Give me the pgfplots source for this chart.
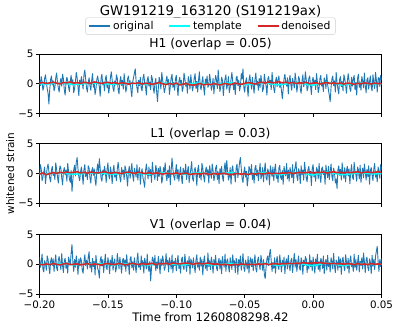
\documentclass[border=0pt]{standalone}
\usepackage{fontspec}
\setmainfont{DejaVu Sans}
\usepackage{pgfplots}
\usepackage{pgfplotstable}
\pgfplotsset{compat=1.18}

\definecolor{tabblue}{HTML}{1F77B4}
\definecolor{tabred}{HTML}{D62728}
\definecolor{tplcyan}{HTML}{00FFFF}

% whitened strain, 0.000625 s spacing from -0.2
\pgfplotstableread[row sep=\\]{y\\
0.6\\ -0.3\\ 1.2\\ 0.4\\ -1.1\\ -0.5\\ 0.9\\ 1.5\\ 0.2\\ -0.8\\ -1.6\\ -3.4\\ -0.9\\ 0.7\\ 1.3\\ -0.2\\ 0.5\\ -1.2\\ -0.6\\ 1.0\\
1.8\\ 0.3\\ -0.7\\ -1.4\\ 0.1\\ 0.9\\ -0.4\\ 1.6\\ 0.8\\ -1.0\\ -1.9\\ 0.2\\ 1.1\\ 0.5\\ -0.6\\ -1.3\\ 0.4\\ 1.4\\ -0.2\\ 0.7\\
-1.5\\ -0.8\\ 0.3\\ 1.9\\ 1.0\\ -0.5\\ -2.0\\ 0.6\\ -0.1\\ 1.2\\ 0.3\\ -0.9\\ 1.5\\ 2.3\\ 0.8\\ -0.7\\ -1.4\\ 0.2\\ 1.0\\ -0.3\\
-1.1\\ 0.5\\ 1.7\\ -0.6\\ 0.0\\ -1.8\\ -0.9\\ 0.7\\ 1.3\\ 0.4\\ -0.5\\ -2.1\\ 0.9\\ 1.6\\ -0.2\\ 0.3\\ -1.2\\ 0.8\\ 1.4\\ -0.7\\
0.2\\ -1.6\\ -0.4\\ 1.1\\ 2.0\\ 0.6\\ -0.8\\ -1.3\\ 0.5\\ -0.2\\ 1.5\\ 0.9\\ -1.0\\ -1.7\\ 0.4\\ 1.2\\ -0.3\\ 0.6\\ -0.9\\ 1.7\\
0.1\\ -1.4\\ -0.6\\ 0.8\\ 1.3\\ -0.2\\ 0.5\\ -1.1\\ -2.2\\ 0.3\\ 1.0\\ 1.8\\ 2.5\\ 0.4\\ -0.7\\ -1.5\\ 0.6\\ -0.3\\ 1.1\\ -0.8\\
-1.2\\ 0.9\\ 1.6\\ 0.2\\ -0.5\\ -1.9\\ 0.7\\ 1.2\\ -0.4\\ 0.3\\ -1.0\\ 1.4\\ 0.8\\ -0.6\\ -1.6\\ 0.1\\ 0.9\\ -1.3\\ -3.0\\ -0.7\\
1.1\\ 0.4\\ -0.9\\ 1.9\\ 0.6\\ -0.3\\ -1.5\\ -0.8\\ 0.5\\ 1.3\\ -0.1\\ 0.7\\ -1.8\\ -0.4\\ 1.0\\ 1.6\\ -0.6\\ 0.2\\ -1.1\\ 0.8\\
1.4\\ -0.5\\ -2.0\\ 0.3\\ 1.1\\ -0.2\\ 0.6\\ -1.3\\ -0.7\\ 1.8\\ 0.9\\ -0.4\\ 0.2\\ -1.6\\ 1.2\\ 0.5\\ -0.9\\ 1.5\\ 0.0\\ -1.2\\
-0.3\\ 1.0\\ 1.7\\ -0.8\\ 0.4\\ -1.4\\ 0.6\\ 2.0\\ -0.5\\ -1.0\\ 0.3\\ 1.2\\ -0.7\\ -1.9\\ 0.8\\ 0.1\\ 1.3\\ -0.6\\ -0.2\\ 1.6\\
0.5\\ -1.1\\ -0.4\\ 0.9\\ -1.7\\ 0.2\\ 1.4\\ 0.7\\ -0.8\\ 2.3\\ 0.3\\ -1.3\\ -0.5\\ 1.1\\ 0.6\\ -2.0\\ -0.2\\ 0.8\\ 1.5\\ -0.9\\
-0.1\\ 1.2\\ -1.5\\ -0.6\\ 0.7\\ 1.9\\ 0.4\\ -1.0\\ 0.2\\ -1.8\\ 0.9\\ 1.3\\ -0.3\\ 0.6\\ -1.2\\ -0.4\\ 1.7\\ 0.8\\ 2.5\\ -0.7\\
-1.4\\ 0.3\\ 1.0\\ -0.5\\ -2.1\\ 0.6\\ 1.5\\ 0.1\\ -0.9\\ 1.1\\ -0.3\\ -1.6\\ 0.7\\ 1.8\\ -0.2\\ 0.4\\ -1.1\\ 0.9\\ -0.6\\ 1.4\\
0.2\\ -1.3\\ -0.7\\ 1.6\\ 0.5\\ -0.4\\ -1.9\\ 0.8\\ 1.2\\ -0.1\\ 0.6\\ -1.0\\ 1.9\\ 0.3\\ -0.8\\ -1.5\\ 0.4\\ 1.1\\ -0.5\\ 0.7\\
1.3\\ -0.6\\ 0.1\\ -1.2\\ -2.5\\ -0.9\\ 0.8\\ 1.6\\ 0.3\\ -0.4\\ 1.0\\ -1.7\\ 0.5\\ 1.4\\ -0.2\\ -1.1\\ 0.9\\ 0.2\\ -0.7\\ 1.8\\
0.6\\ -1.4\\ -0.3\\ 1.2\\ 0.8\\ -0.9\\ -1.6\\ 0.4\\ 1.5\\ -0.5\\ 0.1\\ 2.0\\ 0.7\\ -1.2\\ -0.6\\ 0.9\\ 1.3\\ -0.3\\ -1.8\\ 0.5\\
1.1\\ -0.2\\ 0.6\\ -1.0\\ 1.7\\ 0.3\\ -1.5\\ -0.7\\ 0.9\\ 1.4\\ -0.4\\ 0.2\\ -1.3\\ 1.0\\ 0.5\\ -0.8\\ 1.6\\ -0.1\\ -1.1\\ -2.0\\
-3.0\\ -0.6\\ 0.8\\ 1.3\\ -0.3\\ 0.5\\ -1.4\\ 1.9\\ 0.2\\ -0.9\\ -1.7\\ 0.7\\ 1.2\\ -0.5\\ 0.4\\ -1.2\\ 1.5\\ 0.9\\ -0.2\\ -1.6\\
0.3\\ 1.7\\ 0.6\\ -0.8\\ -1.3\\ 1.1\\ -0.4\\ 0.8\\ 1.4\\ -1.0\\ 0.2\\ -1.9\\ 0.9\\ 1.6\\ -0.6\\ 0.3\\ -1.1\\ 1.2\\ 0.5\\ -0.7\\
1.8\\ -0.3\\ -1.5\\ 0.7\\ 1.0\\ -0.9\\ 0.4\\ 1.3\\ -0.6\\ -1.2\\ 1.5\\ 0.2\\ -0.8\\ 1.9\\ 0.6\\ -1.4\\ 0.8\\ 1.1\\ -0.5\\ 1.4\\
0.6\\
}\hone
\pgfplotstableread[row sep=\\]{y\\
-0.4\\ 1.5\\ 0.8\\ -1.2\\ -0.6\\ 0.3\\ 1.1\\ -1.7\\ -0.2\\ 0.9\\ 1.6\\ 0.4\\ -0.8\\ -1.4\\ 0.6\\ 1.2\\ -0.3\\ 0.1\\ -1.0\\ 1.8\\
0.7\\ -0.5\\ -1.6\\ 0.2\\ 1.3\\ 0.9\\ -0.7\\ -1.9\\ 0.4\\ 1.0\\ -0.2\\ 0.6\\ -1.3\\ 1.7\\ 0.3\\ -0.9\\ -1.5\\ 0.5\\ -3.0\\ -1.1\\
0.6\\ 1.4\\ -0.4\\ 1.9\\ 2.7\\ 0.8\\ -0.6\\ -1.2\\ 0.3\\ 1.1\\ -0.1\\ -1.8\\ 0.7\\ 1.5\\ -0.5\\ 0.2\\ -1.0\\ 1.3\\ 0.9\\ -0.7\\
-1.6\\ 0.4\\ 1.0\\ -0.3\\ 0.8\\ -1.1\\ -2.0\\ 0.5\\ 1.6\\ 0.1\\ 2.5\\ 0.9\\ -0.8\\ -1.3\\ 0.6\\ -0.2\\ 1.2\\ 0.3\\ -1.5\\ 0.7\\
1.8\\ -0.4\\ -0.9\\ 1.1\\ 0.2\\ -1.7\\ 0.5\\ 1.4\\ -0.6\\ 0.0\\ -1.2\\ 0.8\\ 1.9\\ 0.4\\ -0.7\\ -1.4\\ 1.0\\ -0.1\\ 0.6\\ -1.0\\
1.3\\ 0.7\\ -0.5\\ -2.1\\ 0.3\\ 1.2\\ -0.8\\ 0.6\\ 1.7\\ -0.3\\ -1.3\\ 0.9\\ 0.2\\ -0.6\\ 1.5\\ -1.1\\ 0.4\\ 1.0\\ -1.8\\ 0.1\\
0.8\\ -0.7\\ -1.4\\ -2.3\\ 0.5\\ 1.6\\ 0.2\\ -0.9\\ 1.1\\ -0.4\\ 0.7\\ -1.5\\ 1.9\\ 0.3\\ -0.2\\ -1.0\\ 1.4\\ 0.6\\ -1.2\\ 0.9\\
-0.5\\ 1.2\\ 0.4\\ -1.6\\ -0.8\\ 1.0\\ 0.3\\ 1.8\\ -0.3\\ -1.2\\ 0.6\\ -0.7\\ 1.3\\ -1.9\\ 0.5\\ 2.6\\ 0.8\\ -0.4\\ -1.1\\ 0.2\\
1.5\\ -0.9\\ 0.7\\ -1.3\\ 0.1\\ 1.1\\ -0.6\\ -1.7\\ 0.9\\ 0.4\\ -0.2\\ 1.6\\ -1.0\\ 0.3\\ 1.2\\ -1.5\\ -0.4\\ 0.8\\ 2.0\\ -0.8\\
-1.3\\ 0.5\\ 1.0\\ -0.1\\ -2.0\\ 0.6\\ 1.4\\ -0.7\\ 0.2\\ -1.1\\ 1.7\\ 0.9\\ -0.5\\ -1.4\\ 0.4\\ 1.1\\ -0.3\\ 0.7\\ -1.6\\ 1.3\\
0.2\\ -0.8\\ 1.6\\ 0.5\\ -1.2\\ -0.4\\ 0.9\\ 1.4\\ -1.0\\ 0.3\\ -1.7\\ 0.8\\ 0.1\\ 1.2\\ -0.6\\ -1.3\\ 0.7\\ 1.8\\ -0.2\\ 2.2\\
0.4\\ -1.1\\ -0.5\\ 1.0\\ -1.8\\ 0.6\\ 1.3\\ -0.3\\ 0.2\\ -1.4\\ 0.9\\ 1.6\\ -0.7\\ 0.5\\ 1.9\\ 2.7\\ 0.8\\ -0.9\\ -1.5\\ 0.3\\
1.1\\ -0.6\\ 0.4\\ -2.1\\ -0.8\\ 1.2\\ 0.7\\ -0.2\\ 1.5\\ -1.0\\ 0.1\\ -1.6\\ 0.9\\ 1.4\\ -0.4\\ 0.6\\ -1.2\\ 0.3\\ 1.7\\ -0.9\\
-0.3\\ 1.0\\ -1.4\\ 0.5\\ 1.8\\ -0.7\\ -1.1\\ 0.8\\ 0.2\\ -1.9\\ 1.3\\ 0.4\\ -0.5\\ 1.1\\ -1.2\\ 0.7\\ 1.6\\ -0.8\\ 0.0\\ -1.5\\
0.9\\ 1.4\\ -0.6\\ -1.0\\ 0.5\\ -1.8\\ 1.2\\ 0.3\\ -0.4\\ 1.7\\ -0.9\\ 0.6\\ -1.3\\ 1.0\\ 0.2\\ -0.7\\ 1.5\\ -1.6\\ 0.4\\ 1.1\\
2.0\\ -0.5\\ -1.2\\ 0.8\\ 0.3\\ -1.7\\ 1.3\\ -0.2\\ 0.6\\ -1.1\\ 1.9\\ 0.5\\ -0.8\\ -1.4\\ 0.7\\ 1.2\\ -0.3\\ 0.4\\ -2.0\\ 0.9\\
1.5\\ -0.6\\ 0.2\\ -1.3\\ 1.0\\ 0.6\\ -0.9\\ 1.7\\ -0.4\\ -1.5\\ 0.8\\ 1.1\\ -0.2\\ 0.5\\ -1.8\\ 1.4\\ 0.3\\ -0.7\\ 1.2\\ -1.0\\
0.4\\ 1.6\\ -0.5\\ -1.2\\ 0.9\\ 0.2\\ -1.6\\ -0.9\\ -2.5\\ 0.6\\ 1.3\\ -0.3\\ 0.7\\ -1.1\\ 1.8\\ 0.1\\ -0.8\\ 1.0\\ -1.4\\ 0.5\\
1.2\\ -0.4\\ 0.8\\ -1.7\\ 0.3\\ 1.5\\ -0.6\\ -1.0\\ 1.9\\ 0.4\\ -0.2\\ -1.3\\ 1.1\\ 0.6\\ -0.9\\ 1.4\\ -1.5\\ 0.2\\ 0.9\\ -0.7\\
1.6\\ 0.3\\ -1.1\\ 0.7\\ -0.5\\ 1.3\\ -1.8\\ 0.5\\ 1.0\\ -0.3\\ -1.2\\ 0.8\\ 1.7\\ -0.6\\ 0.2\\ -1.4\\ 1.1\\ 0.4\\ -0.8\\ 1.5\\
0.6\\
}\lone
\pgfplotstableread[row sep=\\]{y\\
1.2\\ -0.5\\ 0.3\\ 1.7\\ -0.8\\ -1.3\\ 0.6\\ 0.1\\ -1.0\\ 1.4\\ 0.8\\ -0.4\\ -1.6\\ 0.5\\ 1.1\\ -0.2\\ 0.9\\ -1.2\\ 0.4\\ 1.6\\
-0.6\\ -1.1\\ 0.7\\ 1.3\\ 0.2\\ -0.9\\ 1.8\\ -0.3\\ -1.4\\ 0.6\\ 1.0\\ -0.7\\ 0.3\\ -1.5\\ 1.2\\ 0.5\\ -0.1\\ 1.9\\ 3.3\\ 0.4\\
-1.2\\ 0.8\\ -0.5\\ 1.4\\ 0.2\\ -1.7\\ 0.9\\ -0.3\\ 1.1\\ 0.6\\ -1.0\\ -1.5\\ 0.4\\ 1.6\\ -0.2\\ 0.7\\ -0.8\\ 1.2\\ 2.1\\ -0.6\\
0.3\\ -1.3\\ 1.0\\ -0.4\\ 0.5\\ -1.8\\ 1.5\\ 0.1\\ -0.7\\ -1.1\\ -2.3\\ 0.6\\ 1.3\\ -0.3\\ 0.8\\ -1.4\\ 0.2\\ 1.7\\ -0.5\\ -0.9\\
1.1\\ 0.4\\ -1.6\\ 0.7\\ -0.2\\ 1.5\\ -1.0\\ 0.3\\ 0.9\\ -1.3\\ -0.6\\ 1.8\\ 0.5\\ -0.8\\ 1.2\\ -0.1\\ -1.5\\ 0.6\\ 1.0\\ -0.4\\
0.8\\ -1.2\\ 1.6\\ -0.3\\ 0.2\\ -1.7\\ 0.9\\ 1.3\\ -0.6\\ 0.4\\ -1.0\\ 1.1\\ -0.2\\ -1.4\\ 0.7\\ 1.9\\ -0.5\\ 0.1\\ -0.9\\ 1.4\\
-0.3\\ 0.6\\ -1.5\\ 1.0\\ 0.3\\ -0.8\\ 1.7\\ -0.4\\ -1.2\\ 0.5\\ -2.8\\ -0.6\\ 1.2\\ 0.8\\ -0.2\\ 1.5\\ -1.1\\ 0.4\\ -0.7\\ 1.3\\
0.2\\ -1.6\\ 0.9\\ -0.3\\ 1.4\\ 0.6\\ -1.0\\ -0.5\\ 1.8\\ -0.1\\ 0.7\\ -1.3\\ 1.1\\ 0.3\\ -0.8\\ 1.6\\ -1.4\\ 0.5\\ -0.2\\ 1.0\\
-1.1\\ 0.4\\ 1.5\\ -0.7\\ 0.1\\ -1.5\\ 0.8\\ 1.2\\ -0.4\\ -0.9\\ 1.7\\ 0.2\\ -1.2\\ 0.6\\ -0.3\\ 1.3\\ -1.7\\ 0.9\\ 0.4\\ -0.6\\
1.1\\ -0.2\\ -1.4\\ 0.7\\ 1.6\\ -0.5\\ 0.3\\ -1.0\\ 1.2\\ -0.3\\ 0.8\\ -1.8\\ 0.5\\ 1.4\\ -0.7\\ 0.1\\ -1.1\\ 1.9\\ -0.4\\ 0.6\\
-0.9\\ 1.2\\ 0.3\\ -1.5\\ 0.8\\ -0.2\\ 1.5\\ -0.6\\ -1.1\\ 0.4\\ 1.0\\ -0.8\\ 0.7\\ -1.6\\ 1.3\\ 0.2\\ -0.5\\ 1.7\\ -1.2\\ 0.5\\
0.9\\ -0.4\\ -1.3\\ 1.1\\ 0.3\\ -0.9\\ 1.6\\ -0.2\\ 0.6\\ -1.4\\ 1.0\\ 0.4\\ -1.7\\ 0.8\\ -0.3\\ 1.4\\ -1.0\\ 0.2\\ 1.8\\ -0.6\\
-1.2\\ 0.7\\ 0.1\\ -0.8\\ 1.3\\ -1.5\\ 0.5\\ 1.1\\ -0.4\\ 0.9\\ -1.1\\ 0.3\\ 1.6\\ -0.7\\ -1.3\\ 0.6\\ 1.2\\ -0.1\\ -0.9\\ 1.5\\
0.4\\ -1.0\\ 0.8\\ -1.8\\ -2.4\\ -0.5\\ 0.9\\ 1.4\\ -0.2\\ 1.7\\ 2.5\\ 0.6\\ -1.2\\ 0.3\\ -0.7\\ 1.1\\ -1.5\\ 0.5\\ 1.3\\ -0.4\\
-0.9\\ 1.6\\ 0.2\\ -1.3\\ 0.7\\ -0.3\\ 1.2\\ -1.6\\ 0.4\\ 0.9\\ -0.8\\ 1.5\\ -0.1\\ -1.1\\ 0.6\\ 1.0\\ -1.4\\ 0.3\\ 1.8\\ -0.5\\
0.8\\ -1.2\\ 0.2\\ 1.4\\ -0.6\\ -1.0\\ 1.1\\ 0.5\\ -1.7\\ 0.7\\ -0.2\\ 1.3\\ 0.9\\ -1.4\\ 0.3\\ -0.8\\ 1.6\\ -0.4\\ 0.6\\ -1.1\\
1.2\\ 0.1\\ -1.5\\ 0.9\\ -0.3\\ 1.7\\ -0.9\\ 0.4\\ -1.2\\ 1.0\\ 0.6\\ -0.7\\ 1.4\\ -1.6\\ 0.2\\ 0.8\\ -1.0\\ 1.5\\ -0.4\\ 0.3\\
-1.3\\ 1.1\\ 0.5\\ -0.8\\ 1.8\\ -0.2\\ -1.4\\ 0.7\\ 0.3\\ -1.0\\ 1.3\\ -0.5\\ 0.9\\ -1.7\\ 0.6\\ 1.2\\ -0.3\\ -1.1\\ 1.6\\ 0.4\\
-0.7\\ 1.0\\ -1.5\\ 0.6\\ 1.4\\ -0.4\\ 0.2\\ -1.2\\ 1.7\\ -0.6\\ 0.8\\ -1.0\\ 0.3\\ 1.5\\ -1.3\\ 0.5\\ -0.2\\ 1.1\\ -0.8\\ 1.9\\
0.4\\ -1.4\\ 0.7\\ 1.2\\ -0.5\\ -1.1\\ 0.9\\ 0.3\\ -1.6\\ 1.5\\ -0.3\\ 0.8\\ -0.9\\ 1.3\\ 2.2\\ 3.0\\ 0.6\\ -1.2\\ 0.8\\ -0.4\\
1.0\\
}\vone

% denoised, 0.0025 s spacing
\pgfplotstableread[row sep=\\]{y\\
0.1\\ 0.2\\ 0.05\\ 0.15\\ 0.25\\ 0.1\\ 0.0\\ 0.2\\ 0.15\\ 0.3\\
0.1\\ 0.2\\ 0.05\\ 0.25\\ 0.15\\ 0.1\\ 0.3\\ 0.2\\ 0.05\\ 0.15\\
0.25\\ 0.1\\ 0.2\\ 0.0\\ 0.15\\ 0.1\\ -0.05\\ 0.1\\ 0.05\\ 0.15\\
-0.05\\ 0.1\\ 0.0\\ -0.1\\ 0.05\\ 0.2\\ 0.0\\ -0.15\\ 0.05\\ -0.1\\
0.1\\ -0.2\\ -0.05\\ 0.0\\ -0.15\\ -0.25\\ -0.1\\ 0.05\\ -0.2\\ -0.05\\
-0.15\\ 0.0\\ -0.1\\ -0.2\\ 0.05\\ -0.05\\ -0.15\\ 0.1\\ 0.0\\ -0.1\\
0.05\\ 0.2\\ 0.1\\ -0.05\\ 0.15\\ 0.25\\ 0.1\\ 0.3\\ 0.15\\ 0.2\\
0.35\\ 0.15\\ 0.25\\ 0.1\\ 0.2\\ 0.05\\ 0.15\\ 0.1\\ 0.25\\ 0.0\\
0.1\\ 0.15\\ -0.05\\ 0.1\\ 0.2\\ 0.05\\ 0.15\\ 0.0\\ 0.1\\ -0.05\\
0.1\\ 0.05\\ -0.1\\ 0.1\\ 0.0\\ 0.15\\ 0.05\\ -0.05\\ 0.1\\ 0.0\\
0.05\\
}\hden
\pgfplotstableread[row sep=\\]{y\\
-0.1\\ 0.1\\ -0.2\\ 0.0\\ 0.15\\ 0.05\\ 0.2\\ 0.1\\ 0.25\\ 0.15\\
0.2\\ 0.3\\ 0.1\\ 0.2\\ 0.05\\ 0.25\\ 0.15\\ 0.1\\ 0.2\\ 0.3\\
0.15\\ 0.05\\ 0.2\\ 0.1\\ 0.0\\ 0.15\\ 0.25\\ 0.1\\ 0.05\\ 0.2\\
0.1\\ 0.0\\ 0.15\\ -0.05\\ 0.1\\ 0.05\\ -0.1\\ 0.05\\ 0.0\\ -0.05\\
0.1\\ -0.1\\ 0.0\\ 0.05\\ -0.15\\ -0.05\\ 0.0\\ -0.1\\ 0.05\\ -0.05\\
-0.15\\ 0.0\\ -0.1\\ -0.05\\ 0.05\\ -0.1\\ -0.2\\ -0.05\\ 0.0\\ -0.1\\
-0.05\\ -0.15\\ 0.0\\ -0.1\\ 0.05\\ -0.05\\ 0.0\\ 0.1\\ -0.05\\ 0.05\\
0.0\\ 0.1\\ 0.05\\ 0.15\\ 0.05\\ 0.1\\ 0.2\\ 0.1\\ 0.15\\ 0.25\\
0.1\\ 0.2\\ 0.15\\ 0.25\\ 0.1\\ 0.2\\ 0.3\\ 0.15\\ 0.2\\ 0.1\\
0.25\\ 0.15\\ 0.2\\ 0.3\\ 0.1\\ 0.2\\ 0.25\\ 0.15\\ 0.2\\ 0.3\\
0.2\\
}\lden
\pgfplotstableread[row sep=\\]{y\\
0.0\\ -0.1\\ 0.05\\ -0.05\\ 0.1\\ 0.0\\ -0.1\\ 0.05\\ 0.1\\ -0.05\\
0.0\\ 0.05\\ -0.1\\ 0.0\\ 0.1\\ -0.05\\ 0.05\\ 0.0\\ -0.15\\ 0.05\\
0.1\\ 0.0\\ -0.05\\ 0.1\\ 0.05\\ -0.1\\ 0.0\\ 0.15\\ 0.05\\ -0.05\\
0.1\\ 0.0\\ 0.05\\ 0.15\\ -0.05\\ 0.1\\ 0.05\\ 0.15\\ 0.0\\ 0.2\\
0.1\\ 0.05\\ 0.15\\ 0.2\\ 0.1\\ 0.0\\ 0.15\\ 0.1\\ 0.05\\ 0.2\\
0.1\\ 0.0\\ 0.05\\ -0.1\\ 0.0\\ -0.05\\ -0.15\\ 0.0\\ -0.1\\ 0.05\\
-0.05\\ -0.1\\ 0.0\\ -0.05\\ 0.05\\ 0.0\\ 0.1\\ -0.05\\ 0.05\\ 0.1\\
0.0\\ 0.1\\ 0.05\\ 0.15\\ 0.1\\ 0.2\\ 0.15\\ 0.25\\ 0.2\\ 0.15\\
0.25\\ 0.2\\ 0.3\\ 0.15\\ 0.2\\ 0.1\\ 0.15\\ 0.05\\ 0.1\\ 0.0\\
0.1\\ 0.05\\ -0.05\\ 0.1\\ 0.0\\ 0.05\\ -0.05\\ 0.1\\ 0.0\\ 0.05\\
0.0\\
}\vden

% template, 0.005 s spacing
\pgfplotstableread[row sep=\\]{y\\
0.0\\ -0.05\\ 0.05\\ 0.1\\ 0.0\\ -0.1\\ -0.05\\ 0.05\\ 0.1\\ 0.05\\
-0.05\\ -0.1\\ 0.0\\ 0.1\\ 0.05\\ -0.05\\ -0.1\\ 0.0\\ 0.1\\ 0.05\\
-0.05\\ -0.1\\ 0.0\\ 0.1\\ 0.05\\ -0.1\\ -0.1\\ 0.05\\ 0.15\\ 0.0\\
-0.15\\ -0.05\\ 0.1\\ 0.15\\ -0.05\\ -0.2\\ -0.05\\ 0.15\\ 0.2\\ -0.1\\
-0.25\\ 0.0\\ 0.25\\ 0.1\\ -0.2\\ -0.15\\ 0.05\\ 0.1\\ 0.0\\ -0.05\\
0.0\\
}\tpl

\pgfplotsset{
  panel/.style={
    anchor=south west,
    width=342pt, height=59.5pt, scale only axis,
    xmin=-0.2, xmax=0.05, ymin=-5, ymax=5,
    xtick={-0.2,-0.15,-0.1,-0.05,0,0.05},
    ytick={-5,0,5}, yticklabels={−5,0,5},
    tick pos=left, tick align=outside, major tick length=3.5pt,
    tick style={black, line width=0.6pt},
    axis line style={line width=0.6pt},
    tick label style={font=\fontsize{10.3}{12}\selectfont},
    yticklabel style={xshift=1pt},
    title style={font=\fontsize{12.3}{14}\selectfont, at={(0.5,1)}, anchor=base, yshift=0pt},
  },
  orig/.style={tabblue, line width=0.9pt, line join=round},
  den/.style={tabred, line width=1.6pt, line join=round},
  tmpl/.style={tplcyan, line width=1.5pt},
}

\begin{document}
\begin{tikzpicture}
\path[use as bounding box] (0pt,0pt) rectangle (398pt,329pt);
\node[font=\fontsize{13.3}{15}\selectfont, anchor=base] at (210.5pt,313.5pt) {GW191219\_163120 (S191219ax)};

\begin{axis}[panel, at={(39.5pt,215.5pt)}, xticklabels={},
  title={H1 (overlap = 0.05)},
  legend columns=3,
  legend cell align=left,
  legend image code/.code={\draw[#1, line width=1.5pt] (0pt,0pt) -- (21pt,0pt);},
  legend style={at={(0.5,1.469)}, anchor=center, draw=black!20, rounded corners=2pt,
    font=\fontsize{10.8}{12}\selectfont, inner xsep=3pt, inner ysep=1.5pt,
    /tikz/every even column/.append style={column sep=13pt}},
]
\addplot[orig] table[x expr=\coordindex*0.000625-0.2, y=y] {\hone};
\addlegendentry{original}
\addplot[tmpl] table[x expr=\coordindex*0.005-0.2, y=y] {\tpl};
\addlegendentry{template}
\addplot[den] table[x expr=\coordindex*0.0025-0.2, y=y] {\hden};
\addlegendentry{denoised}
\end{axis}

\begin{axis}[panel, at={(39.5pt,125.7pt)}, xticklabels={},
  title={L1 (overlap = 0.03)},
  ylabel={whitened strain},
  ylabel style={font=\fontsize{10.5}{12}\selectfont, at={(axis description cs:-0.086,0.5)}, anchor=center},
]
\addplot[orig] table[x expr=\coordindex*0.000625-0.2, y=y] {\lone};
\addplot[tmpl] table[x expr=\coordindex*0.005-0.2, y=y] {\tpl};
\addplot[den] table[x expr=\coordindex*0.0025-0.2, y=y] {\lden};
\end{axis}

\begin{axis}[panel, at={(39.5pt,35pt)},
  xticklabels={−0.20,−0.15,−0.10,−0.05,0.00,0.05},
  title={V1 (overlap = 0.04)},
  xlabel={Time from 1260808298.42},
  xlabel style={font=\fontsize{11.7}{13}\selectfont, at={(axis description cs:0.5,0)}, anchor=base, yshift=-27pt},
]
\addplot[orig] table[x expr=\coordindex*0.000625-0.2, y=y] {\vone};
\addplot[tmpl] table[x expr=\coordindex*0.005-0.2, y=y] {\tpl};
\addplot[den] table[x expr=\coordindex*0.0025-0.2, y=y] {\vden};
\end{axis}
\end{tikzpicture}
\end{document}
